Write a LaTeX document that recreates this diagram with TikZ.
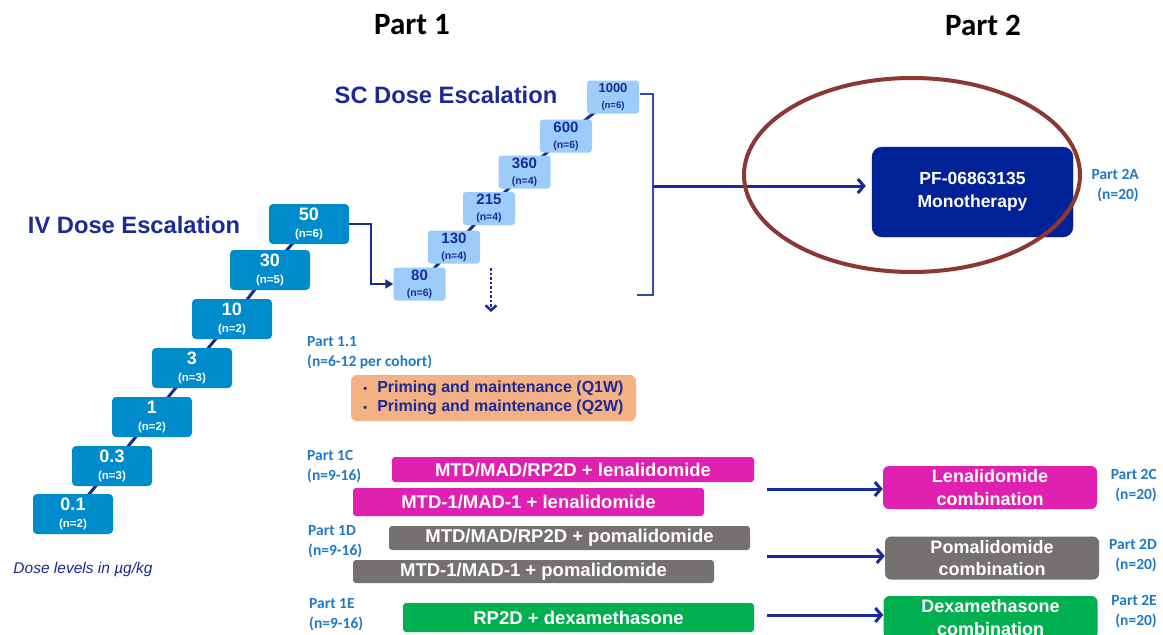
\documentclass[tikz,border=0pt]{standalone}
\usepackage{fontspec}
\setmainfont{Liberation Sans}
\newfontfamily\calfont{Carlito}
\usetikzlibrary{arrows.meta}
\pgfdeclarelayer{background}
\pgfsetlayers{background,main}
\definecolor{navy}{RGB}{26,42,150}
\definecolor{monoblue}{RGB}{0,34,150}
\definecolor{ivblue}{RGB}{0,140,204}
\definecolor{scblue}{RGB}{155,204,250}
\definecolor{orangefill}{RGB}{244,177,131}
\definecolor{magentafill}{RGB}{224,32,176}
\definecolor{grayfill}{RGB}{118,113,113}
\definecolor{greenfill}{RGB}{0,176,80}
\definecolor{lblblue}{RGB}{30,122,200}
\definecolor{ellred}{RGB}{140,55,50}
\definecolor{brk}{RGB}{50,75,175}
\newcommand\ivlab[2]{{\fontsize{18}{17}\selectfont #1}\\(n=#2)}
\newcommand\sclab[2]{{\fontsize{15}{15}\selectfont #1}\\(n=#2)}
\begin{document}
\begin{tikzpicture}[x=1pt,y=-1pt,
  ivbox/.style={fill=ivblue, rounded corners=4pt, minimum width=80pt, minimum height=40pt, inner sep=0pt, text=white, align=center, font=\bfseries\fontsize{11.5}{17}\selectfont},
  scbox/.style={fill=scblue, rounded corners=3pt, minimum width=52pt, minimum height=33pt, inner sep=0pt, text=navy, align=center, font=\bfseries\fontsize{10.5}{16}\selectfont},
  stair/.style={draw=navy, line width=3pt},
  bar/.style={rounded corners=3pt, inner sep=0pt, text=white, font=\bfseries\fontsize{18.5}{18.5}\selectfont},
  combo/.style={rounded corners=6pt, inner sep=0pt, minimum width=214pt, minimum height=43pt, text=white, align=center, font=\bfseries\fontsize{18}{22.7}\selectfont},
  lbl/.style={text=lblblue, inner sep=0pt, font=\calfont\bfseries\fontsize{15.5}{20}\selectfont},
  title/.style={text=navy, inner sep=0pt, font=\bfseries\fontsize{23.7}{24}\selectfont},
  parttitle/.style={text=black, inner sep=0pt, font=\calfont\bfseries\fontsize{31}{31}\selectfont},
  barb/.style={draw=navy, line width=3pt, -{Straight Barb[length=6pt,width=14pt,line width=3pt]}}
]
\useasboundingbox (0,0) rectangle (1163,635);

% titles
\node[parttitle] (p1) at (412,25) {Part 1};
\node[parttitle] (p2) at (983,25) {Part 2};
\node[title] (ivt) at (134,225) {IV Dose Escalation};
\node[title] (sct) at (446,95) {SC Dose Escalation};
\node[text=navy, inner sep=0pt, font=\itshape\fontsize{15.5}{16}\selectfont] (dl) at (83,569) {Dose levels in µg/kg};

% IV boxes
\node[ivbox] (iv50) at (309,224) {\ivlab{50}{6}};
\node[ivbox] (iv30) at (270,270) {\ivlab{30}{5}};
\node[ivbox] (iv10) at (232,319) {\ivlab{10}{2}};
\node[ivbox] (iv3) at (192,368) {\ivlab{3}{3}};
\node[ivbox] (iv1) at (152,417) {\ivlab{1}{2}};
\node[ivbox] (iv03) at (112,466) {\ivlab{0.3}{3}};
\node[ivbox] (iv01) at (73,514) {\ivlab{0.1}{2}};

% SC boxes
\node[scbox] (sc1000) at (613,97) {{\fontsize{13}{15}\selectfont 1000}\\{\fontsize{9.5}{9.5}\selectfont (n=6)}};
\node[scbox] (sc600) at (566,136) {\sclab{600}{6}};
\node[scbox] (sc360) at (524.5,172) {\sclab{360}{4}};
\node[scbox] (sc215) at (489,208.5) {\sclab{215}{4}};
\node[scbox] (sc130) at (454,247) {\sclab{130}{4}};
\node[scbox] (sc80) at (419.5,284) {\sclab{80}{6}};

\begin{pgfonlayer}{background}
\fill[white] (0,0) rectangle (1163,635);
\draw[stair] (iv50.center) -- (iv30.center) -- (iv10.center) -- (iv3.center) -- (iv1.center) -- (iv03.center) -- (iv01.center);
\draw[stair] (sc1000.center) -- (sc600.center) -- (sc360.center) -- (sc215.center) -- (sc130.center) -- (sc80.center);
\end{pgfonlayer}

% IV to SC arrow
\draw[navy, line width=2.5pt, -{Triangle[length=8pt,width=9pt]}] (iv50.east) -- ++(22,0) |- (sc80.west);

% dotted arrow
\coordinate (dtop) at (491,268);
\coordinate (dbot) at (491,312);
\draw[navy, line width=2.5pt, dotted, -{Straight Barb[length=5pt,width=11pt,line width=2.5pt]}] (dtop) -- (dbot);

% bracket
\coordinate (bt1) at (640,94);
\coordinate (bt2) at (653,94);
\coordinate (bb2) at (653,295);
\coordinate (bb1) at (637,295);
\coordinate (bm) at (653,186);
\draw[brk, line width=1.5pt] (bt1) -- (bt2) -- (bb2) -- (bb1);

% monotherapy
\node[fill=monoblue, draw=navy!80!black, rounded corners=10pt, minimum width=201pt, minimum height=90pt, inner sep=0pt, text=white, align=center, font=\bfseries\fontsize{17.5}{23}\selectfont] (mono) at (972.5,192) {PF-06863135\\Monotherapy};
\draw[barb, shorten >=6pt] (bm) -- (bm -| mono.west);
\node[lbl, align=right, anchor=east] (l2a) at (1139,186) {Part 2A\\(n=20)};

% ellipse
\draw[ellred, line width=4pt] (912,175) ellipse [x radius=168pt, y radius=97pt];

% Part 1.1
\node[lbl, align=left, anchor=west] (l11) at (307,352.5) {Part 1.1\\(n=6-12 per cohort)};
\node[fill=orangefill, rounded corners=6pt, minimum width=285pt, minimum height=46pt, inner sep=0pt, text=navy, align=left, font=\bfseries\fontsize{16}{19}\selectfont] (prim) at (493.5,398)
 {{\fontsize{11}{11}\selectfont\textbullet}\hspace{10pt}Priming and maintenance (Q1W)\\{\fontsize{11}{11}\selectfont\textbullet}\hspace{10pt}Priming and maintenance (Q2W)};

% Part 1C
\node[lbl, align=left, anchor=west] (l1c) at (307,467) {Part 1C\\(n=9-16)};
\node[bar, fill=magentafill, minimum width=362pt, minimum height=25pt] (m1) at (573,469.5) {MTD/MAD/RP2D + lenalidomide};
\node[bar, fill=magentafill, minimum width=351pt, minimum height=28pt] (m2) at (528.5,502) {MTD-1/MAD-1 + lenalidomide};

% Part 1D
\node[lbl, align=left, anchor=west] (l1d) at (308,541.5) {Part 1D\\(n=9-16)};
\node[bar, fill=grayfill, minimum width=361pt, minimum height=24pt] (g1) at (569.5,538) {MTD/MAD/RP2D + pomalidomide};
\node[bar, fill=grayfill, minimum width=361pt, minimum height=23pt] (g2) at (533.5,571.5) {MTD-1/MAD-1 + pomalidomide};

% Part 1E
\node[lbl, align=left, anchor=west] (l1e) at (309,615) {Part 1E\\(n=9-16)};
\node[bar, fill=greenfill, minimum width=351pt, minimum height=29pt] (gr1) at (578.5,617.5) {RP2D + dexamethasone};

% Part 2 combos
\node[combo, fill=magentafill] (lena) at (990,487.5) {Lenalidomide\\combination};
\node[combo, fill=grayfill] (poma) at (992,558) {Pomalidomide\\combination};
\node[combo, fill=greenfill] (dexa) at (990.5,617.5) {Dexamethasone\\combination};

\node[lbl, align=right, anchor=east] (l2c) at (1157,486) {Part 2C\\(n=20)};
\node[lbl, align=right, anchor=east] (l2d) at (1157,555.5) {Part 2D\\(n=20)};
\node[lbl, align=right, anchor=east] (l2e) at (1157,612) {Part 2E\\(n=20)};

\coordinate (a1) at (767,489);
\coordinate (a2) at (767,556);
\coordinate (a3) at (767,615);
\draw[barb] (a1) -- (a1 -| lena.west);
\draw[barb] (a2) -- (a2 -| poma.west);
\draw[barb] (a3) -- (a3 -| dexa.west);
\end{tikzpicture}
\end{document}
